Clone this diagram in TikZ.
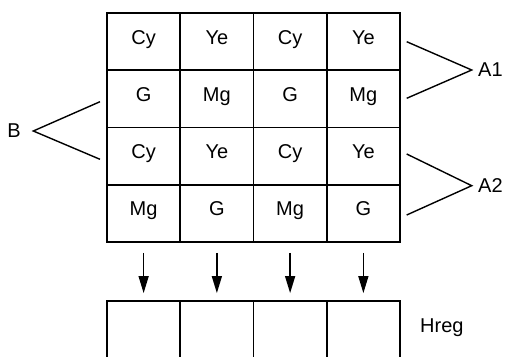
\documentclass[tikz,border=0pt]{standalone}
\usepackage{fontspec}
\setmainfont{Liberation Sans}
\usetikzlibrary{arrows.meta}
\begin{document}
\begin{tikzpicture}[x=1pt,y=-1pt,
  cell/.style={draw,line width=1.8pt,minimum width=73.25pt,minimum height=57.25pt,inner sep=0pt,text height=0.72em,text depth=0.2em,font=\fontsize{20}{22}\selectfont},
  hcell/.style={draw,line width=1.8pt,minimum width=73.25pt,minimum height=70pt,inner sep=0pt},
  lbl/.style={font=\fontsize{20}{22}\selectfont,inner sep=0pt},
  conn/.style={line width=1.4pt},
  down/.style={line width=1.4pt,-{Triangle[length=17pt,width=10pt]}}]
\clip (0,0) rectangle (513,356);
% grid
\foreach \r/\row in {1/{Cy,Ye,Cy,Ye},2/{G,Mg,G,Mg},3/{Cy,Ye,Cy,Ye},4/{Mg,G,Mg,G}}{
  \foreach \t [count=\c] in \row {
    \node[cell] (c\r\c) at ({107+73.25*(\c-0.5)},{13+57.25*(\r-0.5)}) {\t};
  }
}
% Hreg cells
\foreach \c in {1,...,4}{
  \node[hcell] (h\c) at ({107+73.25*(\c-0.5)},336) {};
}
% arrows
\foreach \c in {1,...,4}{
  \draw[down,shorten <=10pt,shorten >=7pt] (c4\c.south) -- (h\c.north);
}
% A1
\coordinate (a1t) at (406.7,41.7);
\coordinate (a1m) at (471.7,70);
\coordinate (a1b) at (406.7,98.3);
\draw[conn] (a1t) -- (a1m) -- (a1b);
\node[lbl,anchor=west] (A1) at (478,70) {A1};
% A2
\coordinate (a2t) at (406.7,154);
\coordinate (a2m) at (471.7,185.7);
\coordinate (a2b) at (406.7,215);
\draw[conn] (a2t) -- (a2m) -- (a2b);
\node[lbl,anchor=west] (A2) at (478,186) {A2};
% B
\coordinate (bt) at (100,101.7);
\coordinate (bm) at (33.3,131);
\coordinate (bb) at (100,159.3);
\draw[conn] (bt) -- (bm) -- (bb);
\node[lbl] (B) at (14,131) {B};
% Hreg
\node[lbl,anchor=west] (hreg) at (420,328) {Hreg};
\end{tikzpicture}
\end{document}
